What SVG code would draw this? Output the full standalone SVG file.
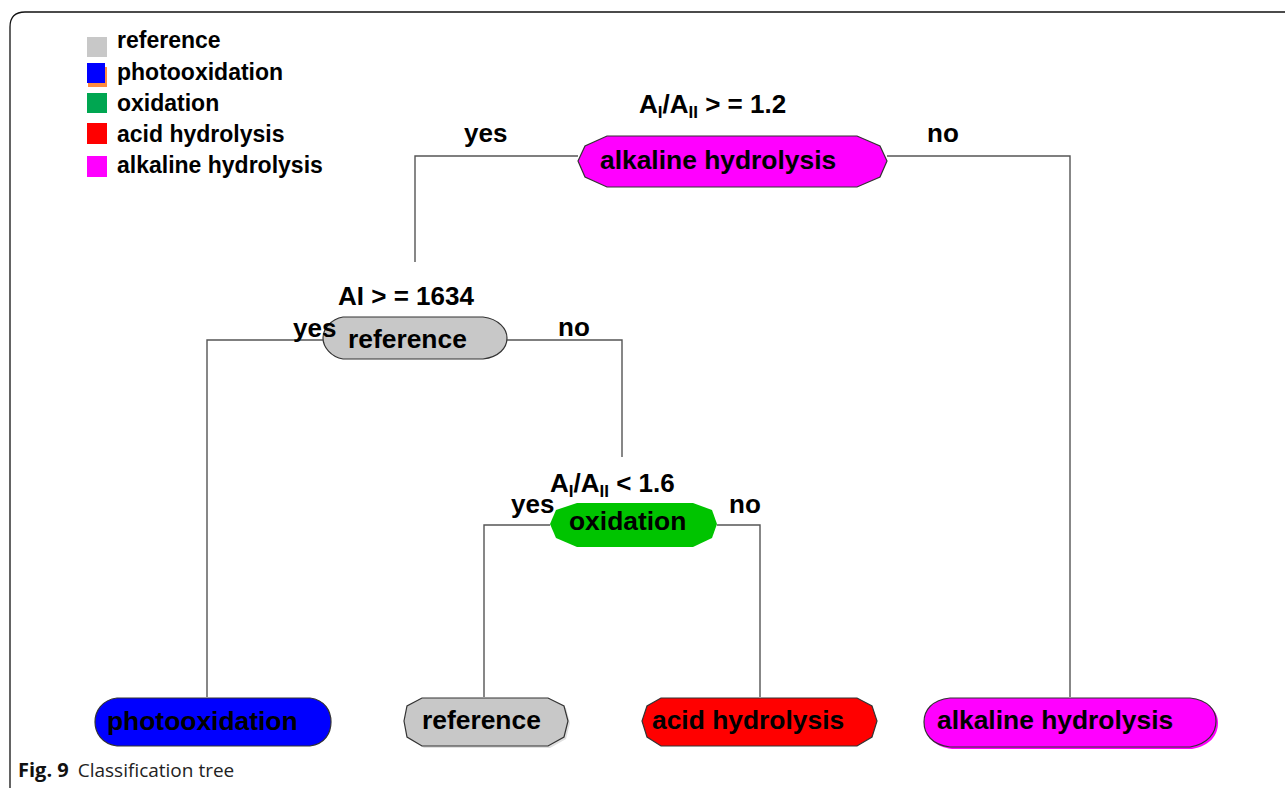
<svg xmlns="http://www.w3.org/2000/svg" width="1285" height="788" viewBox="0 0 1285 788">
<style>
text{font-family:"Liberation Sans",Arial,sans-serif;font-weight:bold;fill:#000}
.leg{font-size:23px}
.nt{font-size:26.4px}
.lb{font-size:26px}
.sub{font-size:17px}
.edge{fill:none;stroke:#555;stroke-width:1.4}
.nd{stroke:#333;stroke-width:1.2}
.cap{font-family:"Open Sans","Noto Sans",sans-serif;font-size:19px;fill:#222}
</style>
<rect width="1285" height="788" fill="#fff"/>
<path d="M10,788 V27 Q10,12 25,12 H1285" fill="none" stroke="#111" stroke-width="1.3"/>
<g id="legend">
<rect x="87" y="37" width="20" height="20" fill="#c8c8c8"/>
<rect x="88" y="67" width="19" height="20" fill="#ff8c40"/>
<rect x="87" y="63" width="18" height="20" fill="#0000ff"/>
<rect x="87" y="93" width="20" height="20" fill="#00a651"/>
<rect x="87" y="123" width="20" height="21" fill="#ff0000"/>
<rect x="87" y="156" width="20" height="21" fill="#ff00ff"/>
<text class="leg" x="117" y="48">reference</text>
<text class="leg" x="117" y="80">photooxidation</text>
<text class="leg" x="117" y="111">oxidation</text>
<text class="leg" x="117" y="142">acid hydrolysis</text>
<text class="leg" x="117" y="173">alkaline hydrolysis</text>
</g>
<g id="connectors">
<path class="edge" d="M578,156 H415 V262"/>
<path class="edge" d="M887,156 H1070 V697"/>
<path class="edge" d="M323,340 H207 V697"/>
<path class="edge" d="M507,340 H622 V457"/>
<path class="edge" d="M550,525 H484 V697"/>
<path class="edge" d="M717,525 H760 V697"/>
</g>
<g id="n1">
<text class="lb" x="639" y="113">A<tspan class="sub" dy="5">I</tspan><tspan dy="-5">/A</tspan><tspan class="sub" dy="5">II</tspan><tspan dy="-5"> &gt; = 1.2</tspan></text>
<path class="nd" fill="#ff00ff" d="M607,136 H857 L880,146 L887,161 L880,177 L857,187 H607 L585,177 L578,161 L585,146 Z"/>
<text class="nt" x="600" y="169">alkaline hydrolysis</text>
</g>
<g id="n2">
<text class="lb" x="338" y="305">AI &gt; = 1634</text>
<path class="nd" fill="#c8c8c8" d="M343,317 H483 C499,319 507,329 507,338 C507,348 499,357 483,359 H343 C331,357 323,347 323,338 C323,329 331,319 343,317 Z"/>
<text class="nt" x="348" y="348">reference</text>
</g>
<g id="n3">
<text class="lb" x="550" y="492">A<tspan class="sub" dy="5">I</tspan><tspan dy="-5">/A</tspan><tspan class="sub" dy="5">II</tspan><tspan dy="-5"> &lt; 1.6</tspan></text>
<path fill="#00c400" d="M577,503 H693 L712,510 L717,524 L712,538 L693,547 H577 L556,538 L550,524 L556,510 Z"/>
<text class="nt" x="569" y="530">oxidation</text>
</g>
<g id="n4">
<path class="nd" fill="#0000ff" d="M117,698 H310 C325,700 331,711 331,722 C331,733 325,744 310,746 H117 C102,744 95,733 95,722 C95,711 102,700 117,698 Z"/>
<text class="nt" x="107" y="730">photooxidation</text>
</g>
<g id="n5">
<path fill="#e0e0e0" d="M424,700 H550 L566,708 L570,723 L566,739 L550,748 H424 L409,739 L406,723 L409,708 Z"/>
<path class="nd" fill="#c8c8c8" d="M422,698 H548 L564,706 L568,721 L564,737 L548,746 H422 L407,737 L404,721 L407,706 Z"/>
<text class="nt" x="422" y="729">reference</text>
</g>
<g id="n6">
<path class="nd" fill="#ff0000" d="M661,698 H857 L872,706 L877,721 L872,737 L857,746 H661 L647,737 L642,721 L647,706 Z"/>
<text class="nt" x="652" y="729">acid hydrolysis</text>
</g>
<g id="n7">
<path fill="#ff00ff" d="M952,700 H1192 C1210,702 1218,712 1218,723 C1218,735 1210,746 1192,749 H952 C934,747 926,736 926,724 C926,712 934,702 952,700 Z"/>
<path class="nd" fill="#ff00ff" d="M950,698 H1190 C1208,700 1216,710 1216,721 C1216,733 1208,744 1190,747 H950 C932,745 924,734 924,722 C924,710 932,700 950,698 Z"/>
<text class="nt" x="937" y="729">alkaline hydrolysis</text>
</g>
<g id="edge-labels">
<text class="lb" x="464" y="142">yes</text>
<text class="lb" x="927" y="142">no</text>
<text class="lb" x="293" y="337">yes</text>
<text class="lb" x="558" y="336">no</text>
<text class="lb" x="511" y="513">yes</text>
<text class="lb" x="729" y="513">no</text>
</g>
<g id="caption">
<text class="cap" x="18" y="777"><tspan font-weight="bold" fill="#111" font-size="20">Fig. 9</tspan><tspan font-weight="normal" dx="9">Classification tree</tspan></text>
</g>
</svg>
